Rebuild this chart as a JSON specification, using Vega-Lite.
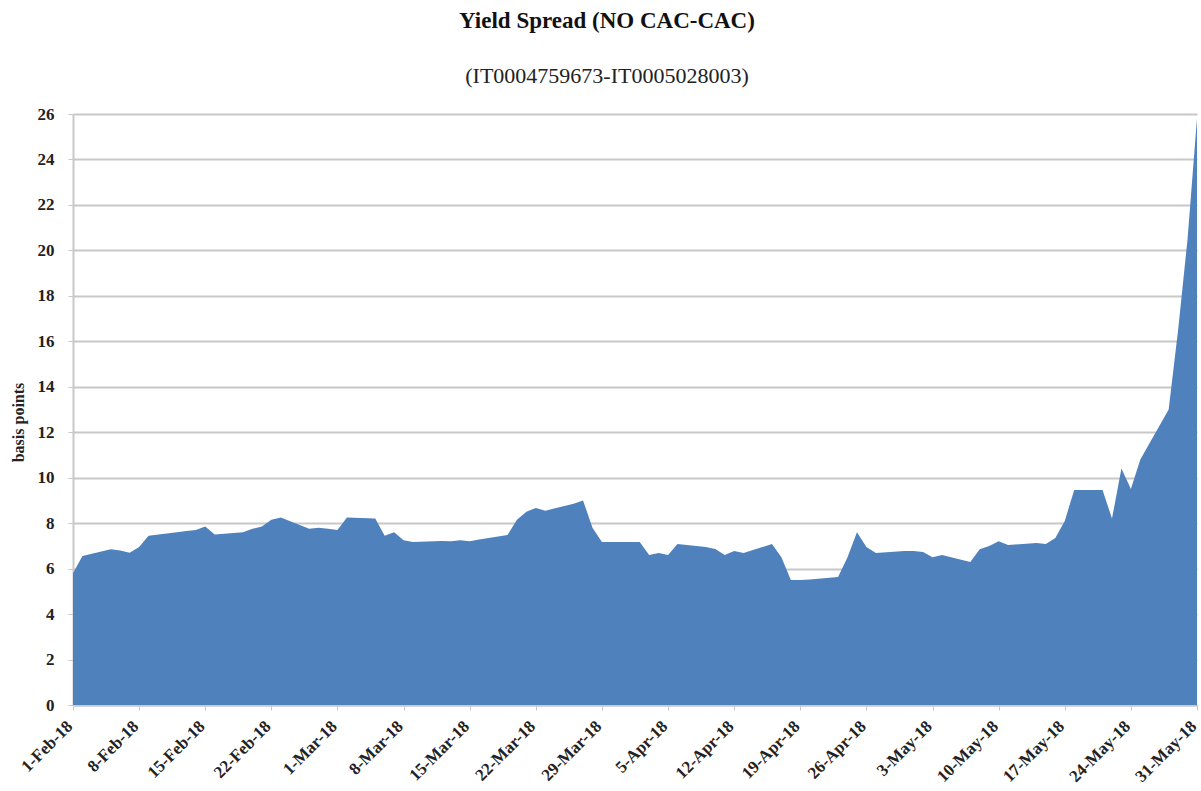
{
  "$schema": "https://vega.github.io/schema/vega-lite/v6.json",
  "width": 1124,
  "height": 591,
  "autosize": {"type": "none"},
  "padding": {"left": 73, "top": 114, "right": 4, "bottom": 86},
  "background": "white",
  "title": {
    "text": "Yield Spread (NO CAC-CAC)",
    "subtitle": "(IT0004759673-IT0005028003)",
    "anchor": "middle",
    "dx": -28,
    "offset": 18,
    "font": "Liberation Serif",
    "fontSize": 23,
    "fontWeight": "bold",
    "color": "#111",
    "subtitleFont": "Liberation Serif",
    "subtitleFontSize": 22,
    "subtitleColor": "#222",
    "subtitlePadding": 33
  },
  "config": {
    "view": {"stroke": null},
    "axis": {"labelFont": "Liberation Serif", "titleFont": "Liberation Serif"}
  },
  "data": {
    "values": [
      {"date": "2018-02-01", "value": 5.8},
      {"date": "2018-02-02", "value": 6.55},
      {"date": "2018-02-05", "value": 6.85},
      {"date": "2018-02-06", "value": 6.8},
      {"date": "2018-02-07", "value": 6.7},
      {"date": "2018-02-08", "value": 6.95},
      {"date": "2018-02-09", "value": 7.45},
      {"date": "2018-02-12", "value": 7.6},
      {"date": "2018-02-13", "value": 7.65},
      {"date": "2018-02-14", "value": 7.7},
      {"date": "2018-02-15", "value": 7.85},
      {"date": "2018-02-16", "value": 7.5},
      {"date": "2018-02-19", "value": 7.6},
      {"date": "2018-02-20", "value": 7.75},
      {"date": "2018-02-21", "value": 7.85},
      {"date": "2018-02-22", "value": 8.15},
      {"date": "2018-02-23", "value": 8.25},
      {"date": "2018-02-26", "value": 7.75},
      {"date": "2018-02-27", "value": 7.8},
      {"date": "2018-02-28", "value": 7.75},
      {"date": "2018-03-01", "value": 7.7},
      {"date": "2018-03-02", "value": 8.25},
      {"date": "2018-03-05", "value": 8.2},
      {"date": "2018-03-06", "value": 7.45},
      {"date": "2018-03-07", "value": 7.6},
      {"date": "2018-03-08", "value": 7.25},
      {"date": "2018-03-09", "value": 7.17},
      {"date": "2018-03-12", "value": 7.22},
      {"date": "2018-03-13", "value": 7.2},
      {"date": "2018-03-14", "value": 7.25},
      {"date": "2018-03-15", "value": 7.2},
      {"date": "2018-03-16", "value": 7.28},
      {"date": "2018-03-19", "value": 7.48},
      {"date": "2018-03-20", "value": 8.15},
      {"date": "2018-03-21", "value": 8.5},
      {"date": "2018-03-22", "value": 8.67},
      {"date": "2018-03-23", "value": 8.55},
      {"date": "2018-03-26", "value": 8.85},
      {"date": "2018-03-27", "value": 9.0},
      {"date": "2018-03-28", "value": 7.8},
      {"date": "2018-03-29", "value": 7.17},
      {"date": "2018-03-30", "value": 7.17},
      {"date": "2018-04-02", "value": 7.17},
      {"date": "2018-04-03", "value": 6.6},
      {"date": "2018-04-04", "value": 6.69},
      {"date": "2018-04-05", "value": 6.6},
      {"date": "2018-04-06", "value": 7.08},
      {"date": "2018-04-09", "value": 6.95},
      {"date": "2018-04-10", "value": 6.86},
      {"date": "2018-04-11", "value": 6.6},
      {"date": "2018-04-12", "value": 6.77},
      {"date": "2018-04-13", "value": 6.69},
      {"date": "2018-04-16", "value": 7.08},
      {"date": "2018-04-17", "value": 6.5},
      {"date": "2018-04-18", "value": 5.5},
      {"date": "2018-04-19", "value": 5.5},
      {"date": "2018-04-20", "value": 5.52},
      {"date": "2018-04-23", "value": 5.63},
      {"date": "2018-04-24", "value": 6.5},
      {"date": "2018-04-25", "value": 7.6},
      {"date": "2018-04-26", "value": 6.95},
      {"date": "2018-04-27", "value": 6.69},
      {"date": "2018-04-30", "value": 6.77},
      {"date": "2018-05-01", "value": 6.77},
      {"date": "2018-05-02", "value": 6.73},
      {"date": "2018-05-03", "value": 6.5},
      {"date": "2018-05-04", "value": 6.6},
      {"date": "2018-05-07", "value": 6.29},
      {"date": "2018-05-08", "value": 6.85},
      {"date": "2018-05-09", "value": 7.0},
      {"date": "2018-05-10", "value": 7.2},
      {"date": "2018-05-11", "value": 7.04},
      {"date": "2018-05-14", "value": 7.13},
      {"date": "2018-05-15", "value": 7.08},
      {"date": "2018-05-16", "value": 7.35},
      {"date": "2018-05-17", "value": 8.1},
      {"date": "2018-05-18", "value": 9.46},
      {"date": "2018-05-21", "value": 9.46},
      {"date": "2018-05-22", "value": 8.2},
      {"date": "2018-05-23", "value": 10.4},
      {"date": "2018-05-24", "value": 9.5},
      {"date": "2018-05-25", "value": 10.8},
      {"date": "2018-05-28", "value": 13.0},
      {"date": "2018-05-29", "value": 16.5},
      {"date": "2018-05-30", "value": 20.5},
      {"date": "2018-05-31", "value": 25.8}
    ]
  },
  "mark": {"type": "area", "color": "#4f81bd", "opacity": 1},
  "encoding": {
    "x": {
      "field": "date",
      "type": "temporal",
      "scale": {
        "type": "utc",
        "nice": false,
        "domain": [
          {"year": 2018, "month": 2, "date": 1, "utc": true},
          {"year": 2018, "month": 5, "date": 31, "utc": true}
        ]
      },
      "axis": {
        "title": null,
        "values": [
          {"year": 2018, "month": 2, "date": 1, "utc": true},
          {"year": 2018, "month": 2, "date": 8, "utc": true},
          {"year": 2018, "month": 2, "date": 15, "utc": true},
          {"year": 2018, "month": 2, "date": 22, "utc": true},
          {"year": 2018, "month": 3, "date": 1, "utc": true},
          {"year": 2018, "month": 3, "date": 8, "utc": true},
          {"year": 2018, "month": 3, "date": 15, "utc": true},
          {"year": 2018, "month": 3, "date": 22, "utc": true},
          {"year": 2018, "month": 3, "date": 29, "utc": true},
          {"year": 2018, "month": 4, "date": 5, "utc": true},
          {"year": 2018, "month": 4, "date": 12, "utc": true},
          {"year": 2018, "month": 4, "date": 19, "utc": true},
          {"year": 2018, "month": 4, "date": 26, "utc": true},
          {"year": 2018, "month": 5, "date": 3, "utc": true},
          {"year": 2018, "month": 5, "date": 10, "utc": true},
          {"year": 2018, "month": 5, "date": 17, "utc": true},
          {"year": 2018, "month": 5, "date": 24, "utc": true},
          {"year": 2018, "month": 5, "date": 31, "utc": true}
        ],
        "labelExpr": "utcFormat(datum.value, '%-d-%b-%y')",
        "labelAngle": -45,
        "labelAlign": "right",
        "labelBaseline": "alphabetic",
        "labelFontSize": 17,
        "labelFontWeight": "bold",
        "labelColor": "#222",
        "labelPadding": 17,
        "labelOverlap": false,
        "labelBound": false,
        "labelFlush": false,
        "grid": false,
        "domainColor": "#c8c8c8",
        "domainWidth": 2,
        "tickColor": "#c8c8c8",
        "tickSize": 5,
        "tickWidth": 1
      }
    },
    "y": {
      "field": "value",
      "type": "quantitative",
      "scale": {"domain": [0, 26], "nice": false},
      "axis": {
        "title": "basis points",
        "titleFontSize": 16,
        "titleFontWeight": "bold",
        "titleColor": "#222",
        "titlePadding": 11,
        "titleY": 308,
        "values": [0, 2, 4, 6, 8, 10, 12, 14, 16, 18, 20, 22, 24, 26],
        "labelFontSize": 17,
        "labelFontWeight": "bold",
        "labelColor": "#222",
        "labelPadding": 14,
        "grid": true,
        "gridColor": "#c8c8c8",
        "gridWidth": 2,
        "domainColor": "#c8c8c8",
        "domainWidth": 2,
        "tickColor": "#c8c8c8",
        "tickSize": 5
      }
    }
  }
}
